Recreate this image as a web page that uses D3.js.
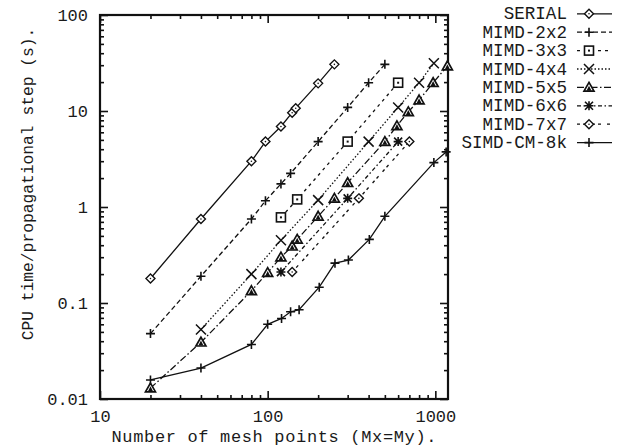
<!DOCTYPE html>
<html><head><meta charset="utf-8">
<script src="https://cdn.jsdelivr.net/npm/d3@7"></script>
<style>
html,body{margin:0;padding:0;background:#fff;}
svg text{font-family:"Liberation Mono","DejaVu Sans Mono",monospace;fill:#1a1a1a;}
</style>
</head><body>
<svg id="chart" width="626" height="448"></svg>
<script>
// ---------------- data ----------------
const seriesNames = ["SERIAL","MIMD-2x2","MIMD-3x3","MIMD-4x4","MIMD-5x5","MIMD-6x6","MIMD-7x7","SIMD-CM-8k"];

const serialX = [20,40,80,97,120,140,147,200,250];
const serialY = [0.18,0.75,3.0,4.8,6.9,9.6,10.7,19.4,30.6];

const mimd2X = [20,40,80,97,120,137,200,300,400,500];
const mimd2Y = [0.048,0.19,0.75,1.16,1.74,2.24,4.8,10.9,19.7,30.6];

const mimd3X = [120,150,300,600];
const mimd3Y = [0.78,1.2,4.8,19.7];

const mimd4X = [40,80,120,200,400,600,800,980];
const mimd4Y = [0.053,0.2,0.45,1.18,4.8,10.9,19.7,31.4];

const mimd5X = [20,40,80,100,120,140,150,200,250,300,500,590,690,800,970,1180];
const mimd5Y = [0.013,0.039,0.134,0.207,0.3,0.39,0.46,0.8,1.23,1.79,4.8,7.0,9.8,13.0,19.7,29.4];

const mimd6X = [120,300,600];
const mimd6Y = [0.21,1.23,4.8];

const mimd7X = [140,350,700];
const mimd7Y = [0.21,1.23,4.8];

const simdX = [20,40,80,100,121,137,154,203,252,303,404,500,980,1160];
const simdY = [0.0158,0.021,0.037,0.06,0.069,0.081,0.085,0.146,0.26,0.28,0.46,0.8,2.9,3.75];

const xMajorTicks = [10,100,1000];
const xTickLabels = ["10","100","1000"];
const yMajorTicks = [0.01,0.1,1,10,100];
const yTickLabels = ["0.01","0.1","1","10","100"];
const xTitle = "Number of mesh points (Mx=My).";
const yTitle = "CPU time/propagational step (s).";

const seriesX = [serialX,mimd2X,mimd3X,mimd4X,mimd5X,mimd6X,mimd7X,simdX];
const seriesY = [serialY,mimd2Y,mimd3Y,mimd4Y,mimd5Y,mimd6Y,mimd7Y,simdY];

// ---------------- styles ----------------
const dashes  = ["", "5,3", "3,4", "1.5,2", "7,2.5,1.5,2.5", "4,2.5,1.5,2.5", "3,3,3,6", ""];
const markers = ["diamond","plus","box","cross","triangle","star","diamond","plus"];

// ---------------- layout ----------------
const svg = d3.select("#chart");
const L=100, R=448, T=15, B=399;
const x = d3.scaleLog().domain([10,1190]).range([L,R]);
const y = d3.scaleLog().domain([0.01,100]).range([B,T]);

function minorTicks(dom){
  const out=[];
  const lo=Math.floor(Math.log10(dom[0])), hi=Math.ceil(Math.log10(dom[1]));
  for(let e=lo;e<hi;e++) for(let m=2;m<=9;m++){const v=m*Math.pow(10,e); if(v>dom[0]&&v<dom[1]) out.push(v);}
  return out;
}
const xMinor = minorTicks(x.domain());
const yMinor = minorTicks(y.domain());

function styleAxis(g){ g.select(".domain").remove(); g.selectAll(".tick line").attr("stroke","#111").attr("stroke-width",1.6); }

// bottom axis
svg.append("g").attr("transform",`translate(0,${B})`)
  .call(d3.axisBottom(x).tickValues(xMajorTicks).tickFormat((d,i)=>xTickLabels[i]).tickSize(-8).tickPadding(11))
  .call(styleAxis)
  .call(g=>g.selectAll("text").attr("font-size",17).attr("font-family","Liberation Mono"));
svg.append("g").attr("transform",`translate(0,${B})`)
  .call(d3.axisBottom(x).tickValues(xMinor).tickFormat("").tickSize(-4)).call(styleAxis);
// top mirror
svg.append("g").attr("transform",`translate(0,${T})`)
  .call(d3.axisTop(x).tickValues(xMajorTicks).tickFormat("").tickSize(-8)).call(styleAxis);
svg.append("g").attr("transform",`translate(0,${T})`)
  .call(d3.axisTop(x).tickValues(xMinor).tickFormat("").tickSize(-4)).call(styleAxis);
// left axis
svg.append("g").attr("transform",`translate(${L},0)`)
  .call(d3.axisLeft(y).tickValues(yMajorTicks).tickFormat((d,i)=>yTickLabels[i]).tickSize(-8).tickPadding(12))
  .call(styleAxis)
  .call(g=>g.selectAll("text").attr("font-size",17).attr("font-family","Liberation Mono"));
svg.append("g").attr("transform",`translate(${L},0)`)
  .call(d3.axisLeft(y).tickValues(yMinor).tickFormat("").tickSize(-4)).call(styleAxis);
// right mirror
svg.append("g").attr("transform",`translate(${R},0)`)
  .call(d3.axisRight(y).tickValues(yMajorTicks).tickFormat("").tickSize(-8)).call(styleAxis);
svg.append("g").attr("transform",`translate(${R},0)`)
  .call(d3.axisRight(y).tickValues(yMinor).tickFormat("").tickSize(-4)).call(styleAxis);

// frame
svg.append("rect").attr("x",L).attr("y",T).attr("width",R-L).attr("height",B-T)
  .attr("fill","none").attr("stroke","#111").attr("stroke-width",2.2);

// titles
svg.append("text").attr("x",274).attr("y",442).attr("text-anchor","middle")
  .attr("font-size",17).attr("textLength",325).attr("lengthAdjust","spacing").text(xTitle);
svg.append("text").attr("transform","translate(33,184) rotate(-90)").attr("text-anchor","middle")
  .attr("font-size",16.3).text(yTitle);

// markers
function drawMarker(g, type, cx, cy){
  const s=4.5;
  const st = {stroke:"#111","stroke-width":1.4,fill:"none"};
  const app = (tag)=>{const e=g.append(tag); for(const k in st) e.attr(k,st[k]); return e;};
  if(type==="diamond"){
    app("path").attr("d",`M${cx},${cy-s}L${cx+s},${cy}L${cx},${cy+s}L${cx-s},${cy}Z`).attr("fill","#fff");
    g.append("circle").attr("cx",cx).attr("cy",cy).attr("r",0.8).attr("fill","#111");
  } else if(type==="plus"){
    app("path").attr("d",`M${cx-s},${cy}H${cx+s}M${cx},${cy-s}V${cy+s}`).attr("stroke-width",1.6);
  } else if(type==="box"){
    app("rect").attr("x",cx-s).attr("y",cy-s).attr("width",2*s).attr("height",2*s).attr("fill","#fff").attr("stroke-width",1.6);
    g.append("rect").attr("x",cx-1).attr("y",cy-1).attr("width",2).attr("height",2).attr("fill","#111");
  } else if(type==="cross"){
    const c=5;
    app("path").attr("d",`M${cx-c},${cy-c}L${cx+c},${cy+c}M${cx-c},${cy+c}L${cx+c},${cy-c}`).attr("stroke-width",1.5);
  } else if(type==="triangle"){
    const t=5;
    app("path").attr("d",`M${cx},${cy-t}L${cx+t},${cy+t*0.75}L${cx-t},${cy+t*0.75}Z`).attr("stroke-width",1.7).attr("fill","#fff");
    g.append("path").attr("d",`M${cx},${cy-t*0.35}L${cx+t*0.5},${cy+t*0.65}L${cx-t*0.5},${cy+t*0.65}Z`).attr("fill","#111");
  } else if(type==="star"){
    const c=4;
    app("path").attr("d",`M${cx-s},${cy}H${cx+s}M${cx},${cy-s}V${cy+s}M${cx-c},${cy-c}L${cx+c},${cy+c}M${cx-c},${cy+c}L${cx+c},${cy-c}`).attr("stroke-width",1.6);
  }
}

// series
const line = d3.line().x(d=>x(d[0])).y(d=>y(d[1]));
seriesX.forEach((xs,i)=>{
  const pts = xs.map((v,j)=>[v,seriesY[i][j]]);
  const g = svg.append("g");
  g.append("path").datum(pts).attr("d",line).attr("fill","none").attr("stroke","#111")
    .attr("stroke-width",1.3).attr("stroke-dasharray",dashes[i]||null);
  pts.forEach(p=>drawMarker(g,markers[i],x(p[0]),y(p[1])));
});

// legend
const lg = svg.append("g");
seriesNames.forEach((name,i)=>{
  const by = 19.3 + i*18.4;
  lg.append("text").attr("x",567).attr("y",by).attr("text-anchor","end").attr("font-size",17.6).text(name);
  const ly = by-5.5;
  lg.append("line").attr("x1",577).attr("x2",612).attr("y1",ly).attr("y2",ly)
    .attr("stroke","#111").attr("stroke-width",1.3).attr("stroke-dasharray",dashes[i]||null);
  drawMarker(lg,markers[i],589,ly);
});
</script>
</body></html>
